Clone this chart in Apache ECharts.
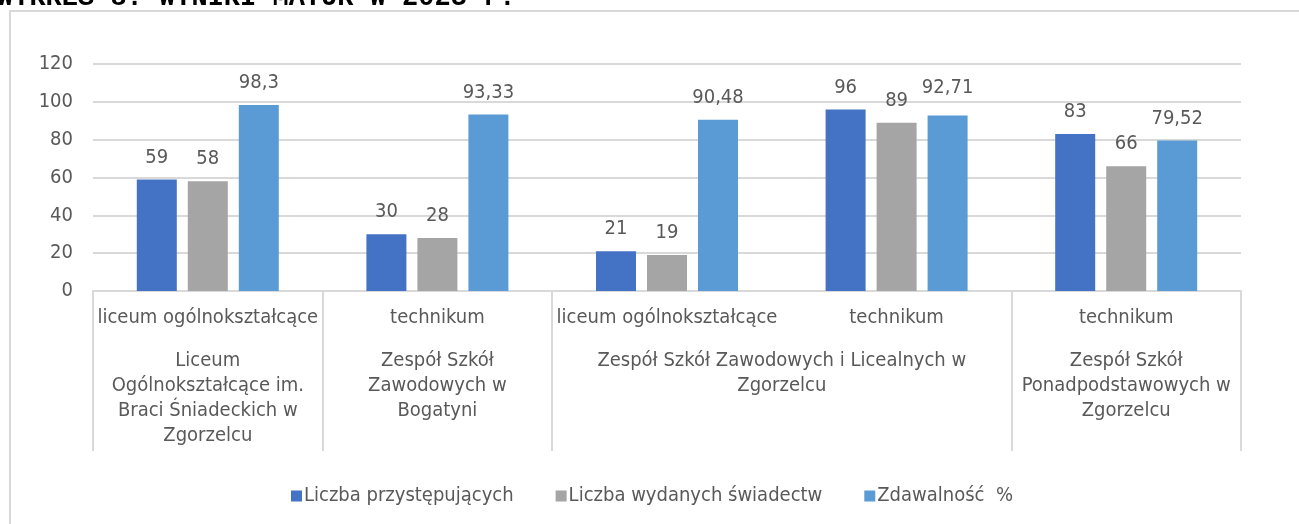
<!DOCTYPE html>
<html>
<head>
<meta charset="utf-8">
<script src="https://cdn.jsdelivr.net/npm/echarts@6/dist/echarts.min.js"></script>
<style>
  html, body { margin: 0; padding: 0; background: #fff; }
  #chart { width: 1299px; height: 524px; }
</style>
</head>
<body>
<div id="chart"></div>
<script>
// data
var types = ['liceum ogólnokształcące', 'technikum', 'liceum ogólnokształcące', 'technikum', 'technikum'];
var schools = [
  'Liceum\nOgólnokształcące im.\nBraci Śniadeckich w\nZgorzelcu',
  'Zespół Szkół\nZawodowych w\nBogatyni',
  'Zespół Szkół Zawodowych i Licealnych w\nZgorzelcu',
  'Zespół Szkół\nPonadpodstawowych w\nZgorzelcu'
];
var schoolSizes = [1, 1, 2, 1];   // how many types each school spans
var przystepujacy = [59, 30, 21, 96, 83];
var swiadectwa = [58, 28, 19, 89, 66];
var zdawalnosc = [98.3, 93.33, 90.48, 92.71, 79.52];
var seriesNames = ['Liczba przystępujących', 'Liczba wydanych świadectw', 'Zdawalność  %'];
var colors = ['#4472C4', '#A5A5A5', '#5B9BD5'];

var FONT = "'DejaVu Sans Condensed', 'DejaVu Sans', sans-serif";
var TXT = '#595959';
var LINE = '#D9D9D9';

// group edges / centers on a 0..n scale
var edges = [0], centers = [];
schoolSizes.forEach(function (s) {
  var start = edges[edges.length - 1];
  edges.push(start + s);
  centers.push(start + s / 2);
});

var chart = echarts.init(document.getElementById('chart'));

function bar(name, values, color, bumped) {
  return {
    name: name,
    type: 'bar',
    // excel pushed one label a bit higher, keep that
    data: values.map(function (v, i) {
      return bumped === i ? { value: v, label: { distance: 18 } } : v;
    }),
    barWidth: 40,
    barGap: '27.5%',
    itemStyle: { color: color },
    label: {
      show: true,
      position: 'top',
      distance: 12,
      color: TXT,
      fontFamily: FONT,
      fontSize: 20,
      formatter: function (p) { return String(p.value).replace('.', ','); }
    }
  };
}

var option = {
  animation: false,
  textStyle: { fontFamily: FONT },
  graphic: [
    {
      type: 'rect',
      shape: { x: 10, y: 11, width: 1400, height: 600 },
      style: { fill: 'none', stroke: LINE, lineWidth: 2 },
      silent: true
    },
    {
      type: 'text',
      x: -3,
      y: -2,
      style: {
        text: 'WYKRES 8. WYNIKI MATUR W 2023 r.',
        font: 'bold 27px "Liberation Mono", monospace',
        fill: '#000',
        verticalAlign: 'middle'
      },
      silent: true
    }
  ],
  legend: {
    left: 286,
    top: 481,
    icon: 'rect',
    itemWidth: 11,
    itemHeight: 11,
    itemGap: 42,
    textStyle: { color: TXT, fontSize: 20, fontFamily: FONT, padding: [0, 0, 0, -3] },
    data: seriesNames
  },
  grid: { left: 93, right: 58, top: 64, bottom: 233 },
  xAxis: [
    {
      type: 'category',
      data: types,
      axisLine: { lineStyle: { color: LINE, width: 2 } },
      axisTick: { show: false },
      axisLabel: { interval: 0, color: TXT, fontSize: 20, fontFamily: FONT, margin: 17 }
    },
    {
      type: 'value',
      min: 0,
      max: types.length,
      position: 'bottom',
      axisLine: { show: false },
      splitLine: { show: false },
      axisTick: {
        show: true,
        customValues: edges.filter(function (e, i) { return i === 0 || i === edges.length - 1 || schoolSizes[i - 1] === 1 || schoolSizes[i] === 1; }),
        length: 160,
        lineStyle: { color: LINE, width: 2 }
      },
      axisLabel: {
        customValues: centers,
        color: TXT,
        fontSize: 20,
        fontFamily: FONT,
        lineHeight: 25,
        margin: 57,
        formatter: function (v) {
          var i = centers.indexOf(v);
          return i >= 0 ? schools[i] : '';
        }
      }
    }
  ],
  yAxis: {
    type: 'value',
    min: 0,
    max: 120,
    interval: 20,
    axisLine: { show: false },
    axisTick: { show: false },
    splitLine: { lineStyle: { color: LINE, width: 2 } },
    axisLabel: { color: TXT, fontSize: 20, fontFamily: FONT, margin: 20 }
  },
  series: [
    bar(seriesNames[0], przystepujacy, colors[0]),
    bar(seriesNames[1], swiadectwa, colors[1]),
    bar(seriesNames[2], zdawalnosc, colors[2], 3)
  ]
};

chart.setOption(option);
</script>
</body>
</html>
